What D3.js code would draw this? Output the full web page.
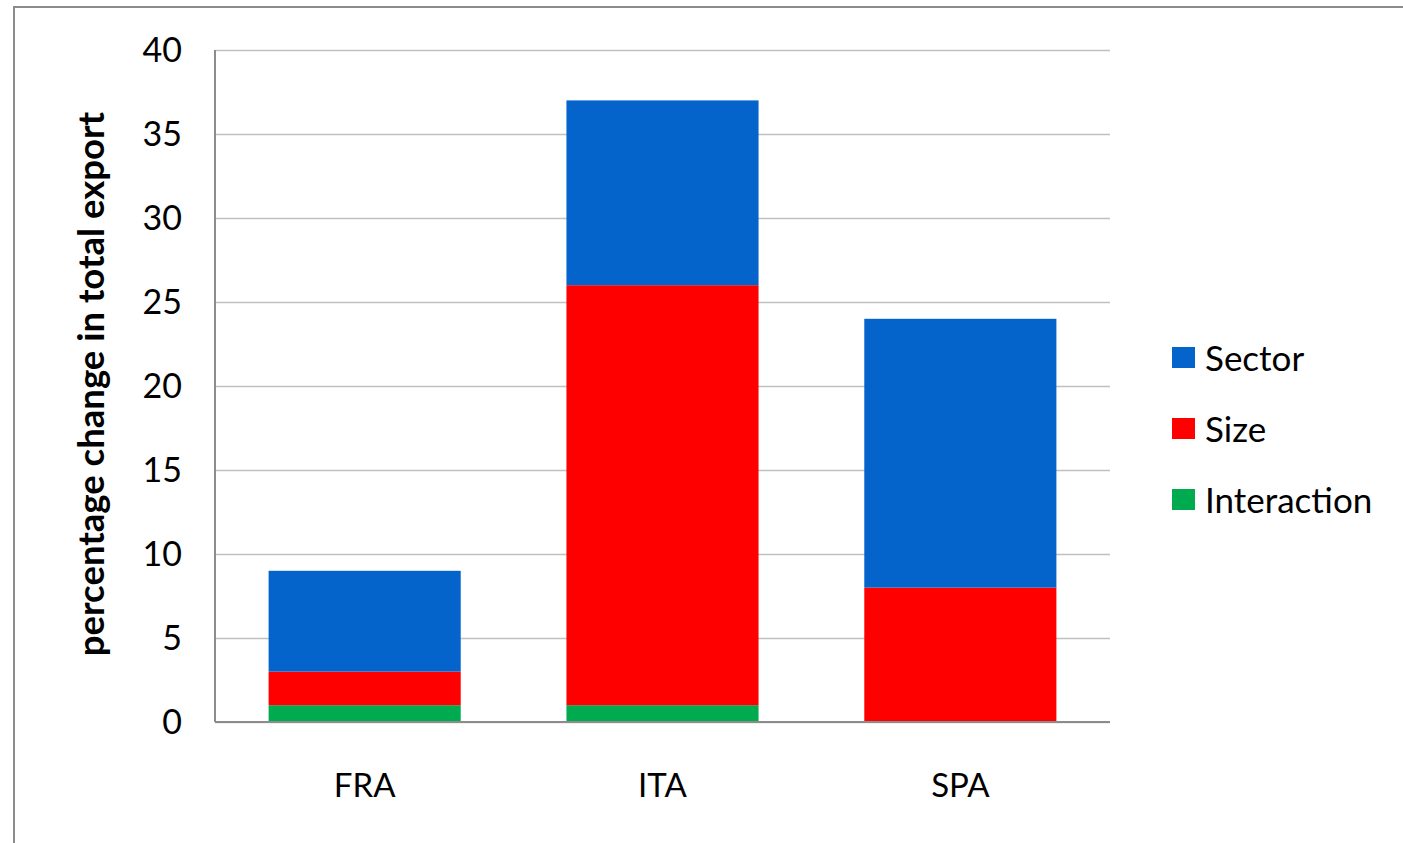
<html>
<head>
  <script src="https://d3js.org/d3.v7.min.js"></script>
  <style>
    body { margin: 0; background: #fff; }
    text { font-family: Lato, 'Open Sans', sans-serif; fill: #000; }
    .gridlines line { stroke: #c0c0c0; stroke-width: 1.5; }
    .gridlines .domain { stroke: none; }
  </style>
</head>
<body>
  <svg id="chart" width="1403" height="843"></svg>
  <script>
    const countries = ["FRA", "ITA", "SPA"];
    const seriesNames = ["Interaction", "Size", "Sector"];
    const interaction = [1, 1, 0];
    const sizeVals = [2, 25, 8];
    const sector = [6, 11, 16];
    const yTicks = [0, 5, 10, 15, 20, 25, 30, 35, 40];
    const colors = { Sector: "#0563cc", Size: "#ff0000", Interaction: "#00aa4f" };

    const svg = d3.select("svg#chart");
    const margin = { top: 50, left: 215, right: 293, bottom: 121 };
    const chartWidth = 1403 - margin.left - margin.right;
    const chartHeight = 843 - margin.top - margin.bottom;

    // outer frame
    svg.append("rect")
      .attr("x", 14).attr("y", 7)
      .attr("width", 1403).attr("height", 843)
      .attr("fill", "none").attr("stroke", "#8c8c8c").attr("stroke-width", 2);

    const rows = countries.map((c, i) => ({
      country: c, Interaction: interaction[i], Size: sizeVals[i], Sector: sector[i]
    }));
    const stacked = d3.stack().keys(seriesNames)(rows);

    const xScale = d3.scaleBand().domain(countries).range([0, chartWidth])
      .paddingInner(0.355).paddingOuter(0.18);
    const yScale = d3.scaleLinear().domain([0, 40]).range([chartHeight, 0]);

    const chart = svg.append("g")
      .attr("transform", "translate(" + margin.left + "," + margin.top + ")");

    chart.append("g")
      .attr("class", "gridlines")
      .call(d3.axisLeft(yScale).tickValues(yTicks).tickSize(-chartWidth).tickFormat(""));

    // bars
    chart.selectAll("g.series")
      .data(stacked)
      .enter()
      .append("g")
      .attr("class", "series")
      .attr("fill", d => colors[d.key])
      .selectAll("rect")
      .data(d => d)
      .enter()
      .append("rect")
      .attr("x", d => xScale(d.data.country))
      .attr("width", xScale.bandwidth())
      .attr("y", d => yScale(d[1]))
      .attr("height", d => yScale(d[0]) - yScale(d[1]));

    // axes lines
    chart.append("line")
      .attr("x1", 0).attr("x2", 0).attr("y1", 0).attr("y2", chartHeight)
      .attr("stroke", "#8c8c8c").attr("stroke-width", 2);
    chart.append("line")
      .attr("x1", 0).attr("x2", chartWidth).attr("y1", chartHeight).attr("y2", chartHeight)
      .attr("stroke", "#8c8c8c").attr("stroke-width", 2);

    // y tick labels
    chart.selectAll("text.ytick")
      .data(yTicks)
      .enter()
      .append("text")
      .attr("class", "ytick")
      .attr("x", -33)
      .attr("y", d => yScale(d))
      .attr("dy", "0.36em")
      .attr("text-anchor", "end")
      .attr("font-size", "34px")
      .text(d => d);

    // x labels
    chart.selectAll("text.xlab")
      .data(countries)
      .enter()
      .append("text")
      .attr("class", "xlab")
      .attr("x", d => xScale(d) + xScale.bandwidth() / 2)
      .attr("y", chartHeight + 75)
      .attr("text-anchor", "middle")
      .attr("font-size", "33px")
      .text(d => d);

    // y axis title
    svg.append("text")
      .attr("transform", "translate(104,384) rotate(-90)")
      .attr("text-anchor", "middle")
      .attr("font-size", "36.5px")
      .attr("font-weight", "bold")
      .text("percentage change in total export");

    // legend
    const legendKeys = ["Sector", "Size", "Interaction"];
    const legend = svg.append("g").attr("transform", "translate(1172,347)");
    const items = legend.selectAll("g")
      .data(legendKeys)
      .enter()
      .append("g")
      .attr("transform", (d, i) => "translate(0," + i * 71 + ")");
    items.append("rect")
      .attr("width", 23).attr("height", 21)
      .attr("fill", d => colors[d]);
    items.append("text")
      .attr("x", 33).attr("y", 11)
      .attr("dy", "0.36em")
      .attr("font-size", "35px")
      .text(d => d);
  </script>
</body>
</html>
